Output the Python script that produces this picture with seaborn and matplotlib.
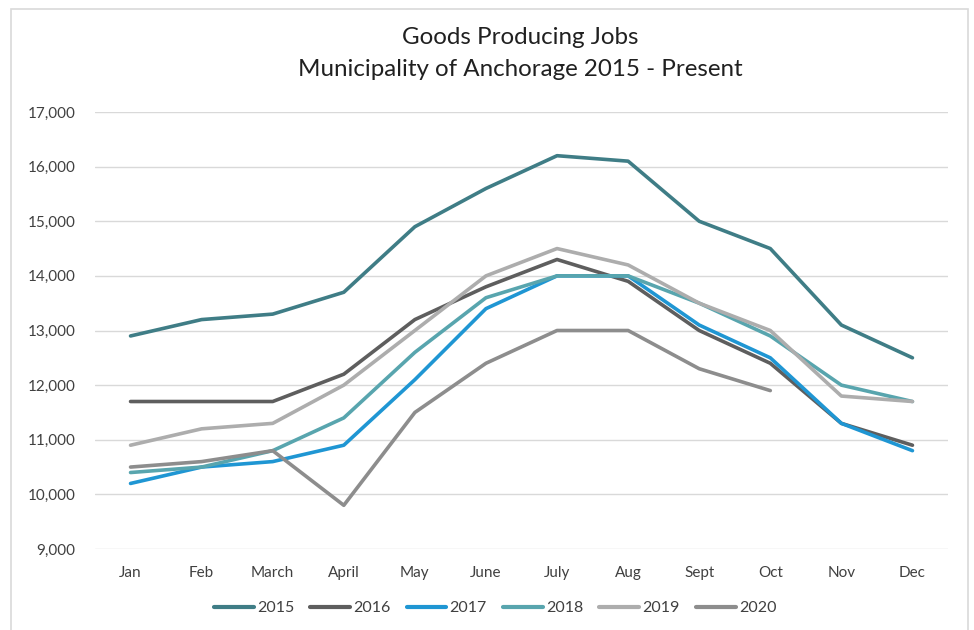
import numpy as np
import pandas as pd
import matplotlib
matplotlib.use("Agg")
import matplotlib.pyplot as plt
import seaborn as sns
from matplotlib.patches import Rectangle
from matplotlib.ticker import FuncFormatter
from matplotlib.lines import Line2D

months = ["Jan", "Feb", "March", "April", "May", "June", "July", "Aug", "Sept", "Oct", "Nov", "Dec"]
years = ["2015", "2016", "2017", "2018", "2019", "2020"]
jobs_2015 = [12900, 13200, 13300, 13700, 14900, 15600, 16200, 16100, 15000, 14500, 13100, 12500]
jobs_2016 = [11700, 11700, 11700, 12200, 13200, 13800, 14300, 13900, 13000, 12400, 11300, 10900]
jobs_2017 = [10200, 10500, 10600, 10900, 12100, 13400, 14000, 14000, 13100, 12500, 11300, 10800]
jobs_2018 = [10400, 10500, 10800, 11400, 12600, 13600, 14000, 14000, 13500, 12900, 12000, 11700]
jobs_2019 = [10900, 11200, 11300, 12000, 13000, 14000, 14500, 14200, 13500, 13000, 11800, 11700]
jobs_2020 = [10500, 10600, 10800, 9800, 11500, 12400, 13000, 13000, 12300, 11900]
colors = ["#3f7d86", "#5e5e5e", "#1f96d3", "#58a5ae", "#adadad", "#8d8d8d"]

series = [jobs_2015, jobs_2016, jobs_2017, jobs_2018, jobs_2019, jobs_2020]
rows = []
for yr, vals in zip(years, series):
    for i, v in enumerate(vals):
        rows.append({"month": i, "year": yr, "jobs": v})
df = pd.DataFrame(rows)

sns.set_style("white")
plt.rcParams["font.family"] = ["Lato", "DejaVu Sans"]

fig = plt.figure(figsize=(9.74, 6.3), dpi=100)
ax = fig.add_axes([95/974, 1-549/630, (948-95)/974, (549-112)/630])

sns.lineplot(data=df, x="month", y="jobs", hue="year", palette=dict(zip(years, colors)),
             linewidth=2.6, ax=ax, legend=False, solid_capstyle="round")

ax.set_xlim(-0.5, 11.5)
ax.set_ylim(9000, 17000)
ax.set_yticks(range(9000, 17001, 1000))
ax.yaxis.set_major_formatter(FuncFormatter(lambda v, p: f"{int(v):,}"))
ax.set_xticks(range(12))
ax.set_xticklabels(months)
ax.tick_params(axis="both", length=0, labelsize=11, colors="#404040")
ax.tick_params(axis="x", pad=12)
ax.tick_params(axis="y", pad=14)
ax.grid(axis="y", color="#d9d9d9", linewidth=1)
ax.set_axisbelow(True)
for s in ax.spines.values():
    s.set_visible(False)
ax.set_xlabel("")
ax.set_ylabel("")

fig.text(520/974, 1-37/630, "Goods Producing Jobs", ha="center", va="center", fontsize=17.4, color="#202020")
fig.text(520/974, 1-69/630, "Municipality of Anchorage 2015 - Present", ha="center", va="center", fontsize=17.4, color="#202020")

handles = [Line2D([0], [0], color=c, linewidth=3, solid_capstyle="round") for c in colors]
fig.legend(handles, years, loc="center", bbox_to_anchor=(495/974, 1-608/630), ncol=6, frameon=False,
           fontsize=11.5, handlelength=2.5, handletextpad=0.2, columnspacing=1.0, labelcolor="#404040")

fig.patches.append(Rectangle((11/974, -0.05), (968-11)/974, 1.05 - 9/630, transform=fig.transFigure,
                             fill=False, edgecolor="#d9d9d9", linewidth=1.2))

fig.savefig("out.png", dpi=100)
